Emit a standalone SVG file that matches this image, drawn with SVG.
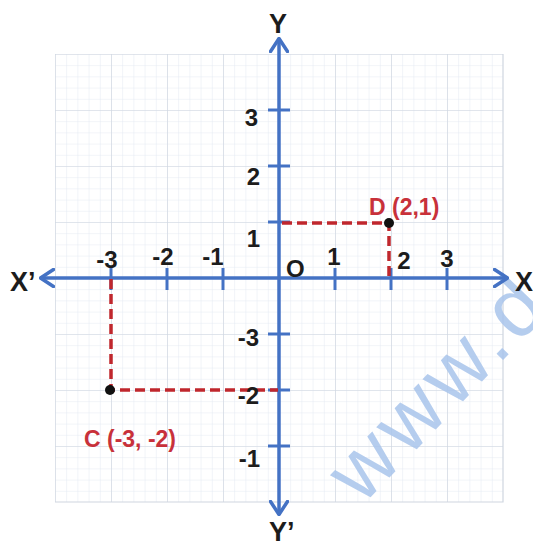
<svg xmlns="http://www.w3.org/2000/svg" width="533" height="546" viewBox="0 0 533 546">
<defs>
<pattern id="minor" x="55" y="54" width="11.2" height="11.2" patternUnits="userSpaceOnUse">
<path d="M0,0 H11.2 M0,0 V11.2" fill="none" stroke="#e3e9f2" stroke-width="1"/>
</pattern>
<pattern id="major" x="55" y="54" width="56" height="56" patternUnits="userSpaceOnUse">
<path d="M0,0 H56 M0,0 V56" fill="none" stroke="#cfd6e0" stroke-width="1.2"/>
</pattern>
<marker id="arr" viewBox="0 0 16 20" refX="15" refY="10" markerWidth="16" markerHeight="20" markerUnits="userSpaceOnUse" orient="auto-start-reverse">
<path d="M1.5,1.5 L14.5,10 L1.5,18.5" fill="none" stroke="#4472c4" stroke-width="3.5" stroke-linecap="round" stroke-linejoin="round"/>
</marker>
</defs>
<style>
.lbl{font-family:"Liberation Sans",Arial,sans-serif;font-weight:bold;font-size:24px;fill:#1c1c1c}
.ax{font-family:"Liberation Sans",Arial,sans-serif;font-weight:bold;font-size:27px;fill:#1c1c1c}
.red{font-family:"Liberation Sans",Arial,sans-serif;font-weight:bold;font-size:23px;fill:#c8313a}
.axis{stroke:#4472c4;stroke-width:3.5;fill:none}
.tick{stroke:#4472c4;stroke-width:3}
.dash{stroke:#c0272d;stroke-width:3.5;stroke-dasharray:10 5;fill:none}
.wm{font-family:"Liberation Sans",Arial,sans-serif;font-size:84px;fill:#a9c5ec;opacity:0.85}
</style>
<rect width="533" height="546" fill="#ffffff"/>
<g id="grid">
<rect x="55" y="54" width="448" height="448" fill="url(#minor)"/>
<rect x="55" y="54" width="448" height="448" fill="url(#major)"/>
<path d="M503,54 V502 H55" fill="none" stroke="#cfd6e0" stroke-width="1.2"/>
</g>
<g id="watermark">
<text class="wm" x="0" y="0" transform="translate(362,506) rotate(-46)" letter-spacing="6">www.d</text>
</g>
<g id="connectors">
<line class="axis" x1="40" y1="278" x2="508" y2="278" marker-start="url(#arr)" marker-end="url(#arr)"/>
<line class="axis" x1="279" y1="515" x2="279" y2="38" marker-start="url(#arr)" marker-end="url(#arr)"/>
<g id="ticks">
<line class="tick" x1="111" y1="268" x2="111" y2="290"/>
<line class="tick" x1="167" y1="268" x2="167" y2="290"/>
<line class="tick" x1="223" y1="268" x2="223" y2="290"/>
<line class="tick" x1="335" y1="268" x2="335" y2="290"/>
<line class="tick" x1="391" y1="268" x2="391" y2="290"/>
<line class="tick" x1="447" y1="268" x2="447" y2="290"/>
<line class="tick" x1="268" y1="110" x2="290" y2="110"/>
<line class="tick" x1="268" y1="166" x2="290" y2="166"/>
<line class="tick" x1="268" y1="222" x2="290" y2="222"/>
<line class="tick" x1="268" y1="334" x2="290" y2="334"/>
<line class="tick" x1="268" y1="390" x2="290" y2="390"/>
<line class="tick" x1="268" y1="446" x2="290" y2="446"/>
</g>
<path class="dash" d="M282,223 H389 V278"/>
<path class="dash" d="M111,279 V390 H278"/>
</g>
<g id="axis-labels">
<text class="ax" x="278" y="33" text-anchor="middle">Y</text>
<text class="ax" x="269" y="541">Y’</text>
<text class="ax" x="10" y="291">X’</text>
<text class="ax" x="515" y="291">X</text>
</g>
<g id="tick-labels">
<text class="lbl" x="258" y="126" text-anchor="end">3</text>
<text class="lbl" x="260" y="185" text-anchor="end">2</text>
<text class="lbl" x="260" y="247" text-anchor="end">1</text>
<text class="lbl" x="259" y="346" text-anchor="end">-3</text>
<text class="lbl" x="259" y="404" text-anchor="end">-2</text>
<text class="lbl" x="260" y="467" text-anchor="end">-1</text>
<text class="lbl" x="107" y="268" text-anchor="middle">-3</text>
<text class="lbl" x="163" y="265" text-anchor="middle">-2</text>
<text class="lbl" x="213" y="265" text-anchor="middle">-1</text>
<text class="lbl" x="286" y="277">O</text>
<text class="lbl" x="334" y="265" text-anchor="middle">1</text>
<text class="lbl" x="404" y="269" text-anchor="middle">2</text>
<text class="lbl" x="447" y="267" text-anchor="middle">3</text>
</g>
<g id="point-D">
<circle cx="389" cy="223" r="5" fill="#111111"/>
<text class="red" x="369" y="215">D (2,1)</text>
</g>
<g id="point-C">
<circle cx="110" cy="390" r="5" fill="#111111"/>
<text class="red" x="84" y="447">C (-3, -2)</text>
</g>
</svg>
